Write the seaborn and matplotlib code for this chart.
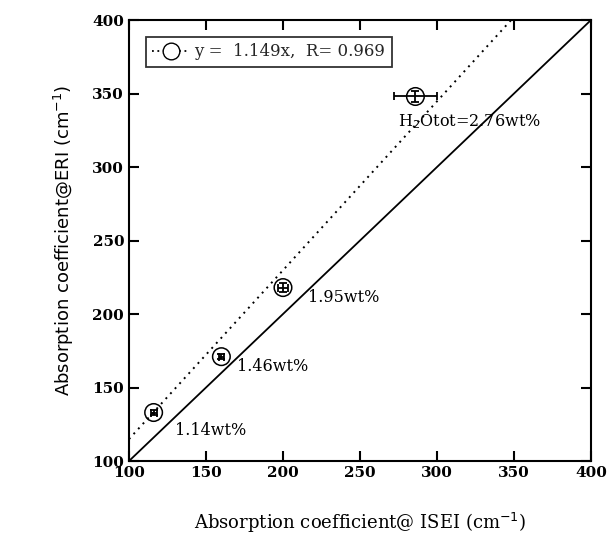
import numpy as np
import pandas as pd
import matplotlib
matplotlib.use("Agg")
import matplotlib.pyplot as plt
import seaborn as sns
from matplotlib.lines import Line2D

# dados
isei = [116, 160, 200, 286]
eri = [133, 171, 218, 348]
isei_err = [2, 1.5, 3, 14]
eri_err = [2, 1.5, 3, 4]
rotulos = ["1.14wt%", "1.46wt%", "1.95wt%", "H$_2$Otot=2.76wt%"]
rotulo_x = [130, 170, 216, 275]
rotulo_y = [121, 164, 211, 331]
slope = 1.149
linha_x = [100, 400]

sns.set_theme(style="ticks")
plt.rcParams['font.family'] = ['DejaVu Serif']

fig = plt.figure(figsize=(6.09, 5.42), dpi=100)
ax = fig.add_axes([0.2118, 0.1494, 0.7586, 0.8136])

df = pd.DataFrame({"isei": isei, "eri": eri})
linhas = pd.DataFrame({"x": linha_x, "y": linha_x, "yfit": [slope * v for v in linha_x]})

sns.lineplot(data=linhas, x="x", y="y", color="black", lw=1.3, ax=ax)
sns.lineplot(data=linhas, x="x", y="yfit", color="black", lw=1.4, ls=(0, (1, 2.5)), ax=ax)
ax.errorbar(isei, eri, xerr=isei_err, yerr=eri_err, fmt="none", ecolor="black",
            elinewidth=1.3, capsize=3, capthick=1.3)
sns.scatterplot(data=df, x="isei", y="eri", marker="o", s=160, facecolor="none",
                edgecolor="black", linewidth=1.1, ax=ax, zorder=5)

for t, tx, ty in zip(rotulos, rotulo_x, rotulo_y):
    ax.text(tx, ty, t, fontsize=11.5, va="center", ha="left", color="black")

# legenda
h = Line2D([], [], color="black", ls=(0, (1, 2)), lw=1.3, marker="o", ms=12,
           mfc="white", mec="black")
leg = ax.legend([h], ["y =  1.149x,  R= 0.969"], loc="upper left", fontsize=12,
                frameon=True, fancybox=False, edgecolor="black", handlelength=2.2,
                handletextpad=0.3, borderaxespad=1.0)
leg.get_frame().set_linewidth(1.3)

ax.set_xlim(100, 400)
ax.set_ylim(100, 400)
ax.set_xticks(np.arange(100, 401, 50))
ax.set_yticks(np.arange(100, 401, 50))
ax.tick_params(direction="in", top=True, right=True, length=7, width=1.5,
               labelsize=11, colors="black")
for lab in ax.get_xticklabels() + ax.get_yticklabels():
    lab.set_fontweight("bold")
for s in ax.spines.values():
    s.set_linewidth(1.5)
    s.set_color("black")

ax.set_xlabel("Absorption coefficient@ ISEI (cm$^{-1}$)", fontsize=13, labelpad=22,
              color="black")
ax.set_ylabel("Absorption coefficient@ERI (cm$^{-1}$)", fontsize=13, labelpad=12,
              family="DejaVu Sans", color="black")

fig.savefig("out.png", dpi=100)
